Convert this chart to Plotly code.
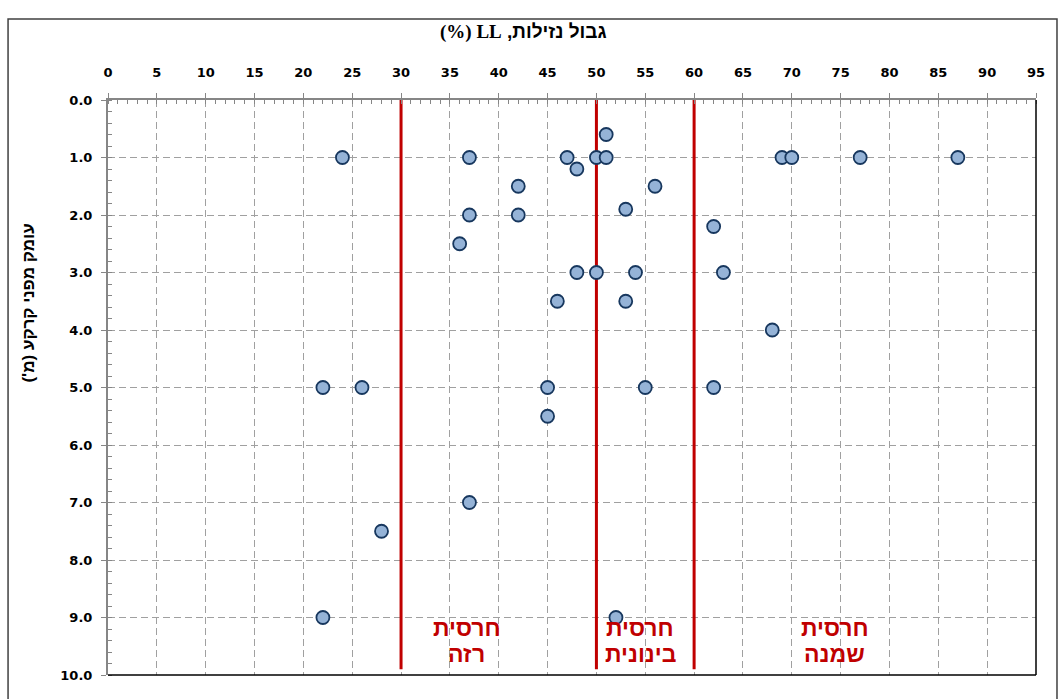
import plotly.graph_objects as go

# Liquid limit (%) vs. depth below ground (m)
ll_values = [24, 37, 47, 50, 51, 51, 48, 69, 70, 77, 87, 42, 56, 53, 37, 42, 62, 36,
             48, 50, 54, 63, 46, 53, 68, 22, 26, 45, 55, 62, 45, 37, 28, 22, 52]
depth_values = [1.0, 1.0, 1.0, 1.0, 1.0, 0.6, 1.2, 1.0, 1.0, 1.0, 1.0, 1.5, 1.5, 1.9, 2.0, 2.0, 2.2, 2.5,
                3.0, 3.0, 3.0, 3.0, 3.5, 3.5, 4.0, 5.0, 5.0, 5.0, 5.0, 5.0, 5.5, 7.0, 7.5, 9.0, 9.0]

# Plasticity class boundaries
class_bounds = [30, 50, 60]
bound_depth = [0.0, 9.9]

# Class names (two lines each) and where they are written
class_names = [["חרסית", "רזה"], ["חרסית", "בינונית"], ["חרסית", "שמנה"]]
class_label_x = [36.7, 54.5, 74.4]
class_label_y = 9.40

x_ticks = list(range(0, 100, 5))
y_ticks = [float(v) for v in range(0, 11)]

RED = "#C00000"
GRID = "#A0A0A0"
AXIS = "#868686"
HEB = "Liberation Sans"

fig = go.Figure()

for xb in class_bounds:
    fig.add_trace(go.Scatter(
        x=[xb, xb], y=bound_depth, mode="lines",
        line=dict(color=RED, width=3), hoverinfo="skip", showlegend=False))

fig.add_trace(go.Scatter(
    x=ll_values, y=depth_values, mode="markers",
    marker=dict(size=13, color="#95B3D7", line=dict(color="#17375E", width=1.8)),
    showlegend=False))

for lines, lx in zip(class_names, class_label_x):
    for k, line_text in enumerate(lines):
        fig.add_annotation(x=lx, y=class_label_y, text=line_text, showarrow=False,
                           yshift=13 - 26 * k,
                           font=dict(family=HEB, size=23, color=RED, weight="bold"))

W, H = 1063, 699
L, R, T, B = 107.5, 27, 100, 24
pw, ph = W - L - R, H - T - B


def px_x(p):
    return (p - L) / pw


def px_y(p):
    return (H - B - p) / ph


# Chart title (serif "LL") and vertical axis title
title_text = ("\u202bגבול נזילות, "
              "<span style='font-family:Liberation Serif'>LL (%)\u202c</span>")
fig.add_annotation(xref="paper", yref="paper", x=px_x(523), y=px_y(32),
                   xanchor="center", yanchor="middle",
                   text=title_text, showarrow=False,
                   font=dict(family=HEB, size=19, color="#000", weight="bold"))
fig.add_annotation(xref="paper", yref="paper", x=px_x(27), y=px_y(303),
                   xanchor="center", yanchor="middle",
                   text="\u202bעומק מפני קרקע (מ')\u202c", showarrow=False, textangle=-90,
                   font=dict(family=HEB, size=17, color="#000", weight="bold"))

# Right and bottom frame of the plot area
fig.add_shape(type="line", xref="paper", yref="paper", x0=1, x1=1, y0=0, y1=1,
              line=dict(color="#000", width=1.5))
fig.add_shape(type="line", xref="paper", yref="paper", x0=0, x1=1, y0=0, y1=0,
              line=dict(color="#000", width=1.5))
# Outer chart border
fig.add_shape(type="rect", xref="paper", yref="paper",
              x0=px_x(7.5), x1=px_x(1057), y0=px_y(19), y1=px_y(710),
              line=dict(color="#404040", width=1.5), layer="below")

tickfont = dict(family="DejaVu Sans", size=13, color="#000", weight="bold")

fig.update_xaxes(
    side="top", range=[0, 95], tickvals=x_ticks, tickfont=tickfont,
    showline=True, linecolor=AXIS, linewidth=2,
    ticks="outside", ticklen=5, tickcolor=AXIS, ticklabelstandoff=11,
    showgrid=True, gridcolor=GRID, griddash="7px,4px", gridwidth=1,
    minor=dict(dtick=1, ticks="inside", ticklen=4, tickcolor=AXIS, showgrid=False),
    zeroline=False)
fig.update_yaxes(
    range=[10, 0], tickvals=y_ticks, tickformat=".1f", tickfont=tickfont,
    showline=True, linecolor=AXIS, linewidth=2,
    ticks="outside", ticklen=5, tickcolor=AXIS, ticklabelstandoff=6,
    showgrid=True, gridcolor=GRID, griddash="7px,4px", gridwidth=1,
    minor=dict(dtick=0.2, ticks="inside", ticklen=4, tickcolor=AXIS, showgrid=False),
    zeroline=False)

fig.update_layout(
    width=W, height=H,
    margin=dict(l=L, r=R, t=T, b=B),
    paper_bgcolor="white", plot_bgcolor="white",
)

fig.write_html("out.html")
